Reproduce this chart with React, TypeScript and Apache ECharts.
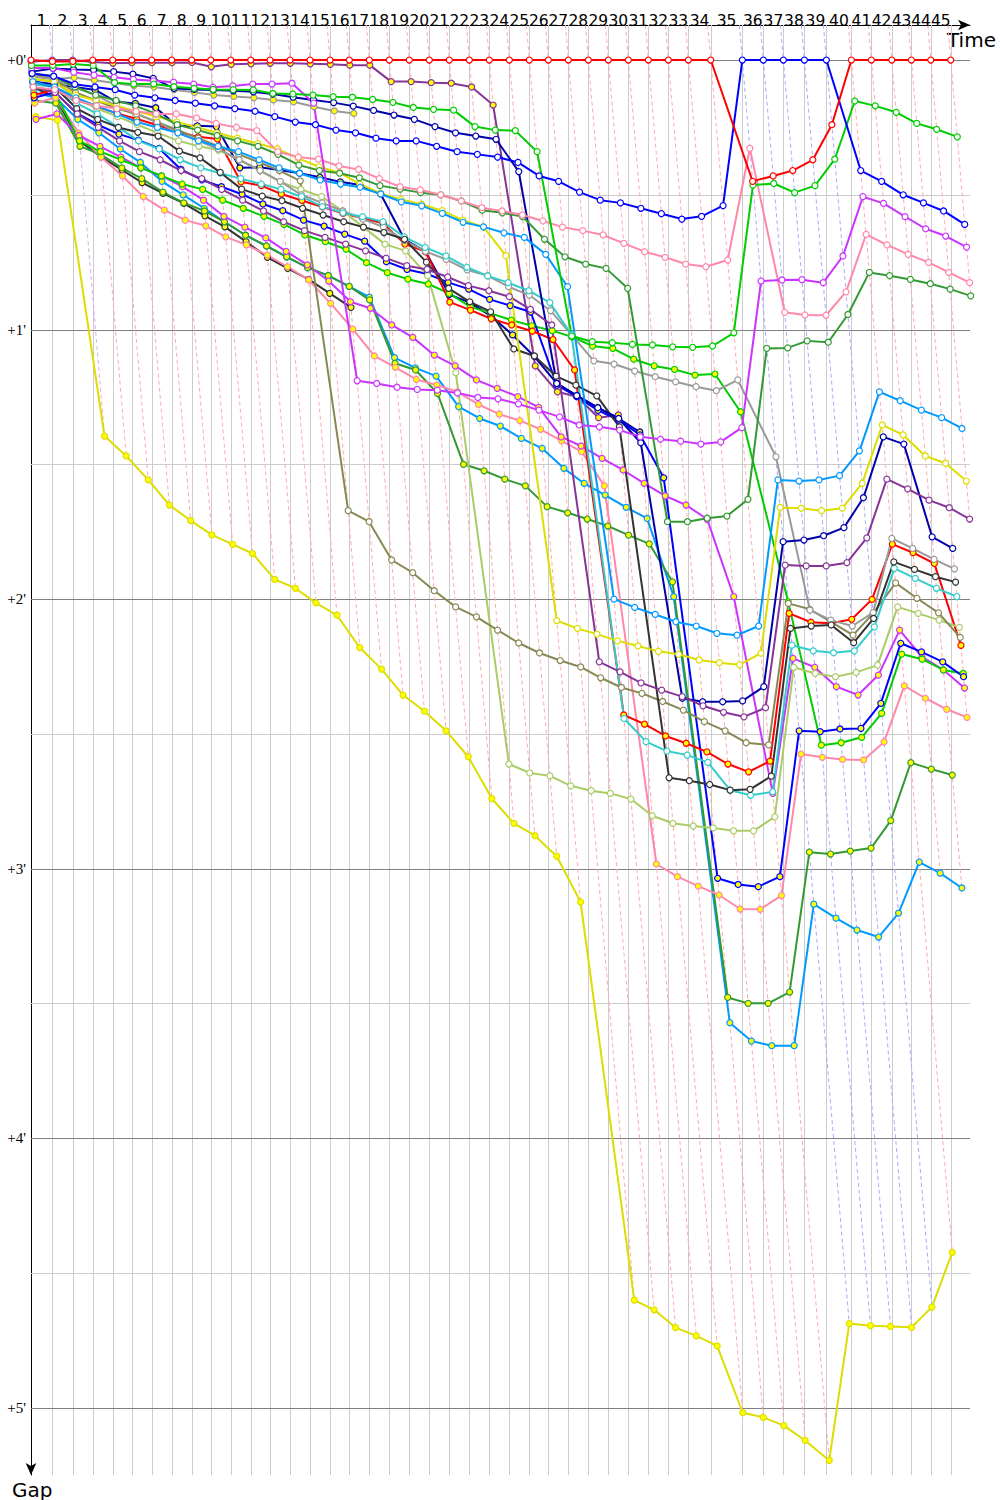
import React, { useEffect, useRef } from "react";
import * as echarts from "echarts";

// Leader's crossing time of each lap (minutes), laps 0..45
const leaderTimes = [0, 0.934, 1.829, 2.706, 3.583, 4.417, 5.294, 6.171, 7.048, 7.882, 8.759, 9.636, 10.482, 11.36, 12.237, 13.114, 13.961, 14.838, 15.715, 16.592, 17.469, 18.346, 19.224, 20.101, 20.978, 21.855, 22.689, 23.566, 24.443, 25.32, 26.197, 27.075, 27.952, 28.829, 29.811, 31.197, 32.118, 32.996, 33.917, 34.882, 35.978, 36.855, 37.75, 38.61, 39.461, 40.338];

const lapLabels = ["1","2","3","4","5","6","7","8","9","10","11","12","13","14","15","16","17","18","19","20","21","22","23","24","25","26","27","28","29","30","31","32","33","34","35","36","37","38","39","40","41","42","43","44","45"];

const gapTicks = [0, 1, 2, 3, 4, 5];
const gapHalfTicks = [0.5, 1.5, 2.5, 3.5, 4.5];

// gaps to leader (minutes) per lap, starting at lap 0
const redW = [0,0.005,0.005,0,0,0,0,0,0,0,0,0,0,0,0,0,0,0,0,0,0,0,0,0,0,0,0,0,0,0,0,0,0,0,0,0.45,0.43,0.41,0.37,0.24,0,0,0,0,0,0];
const blueW = [0.05,0.06,0.09,0.10,0.11,0.13,0.14,0.15,0.16,0.17,0.18,0.19,0.21,0.23,0.24,0.26,0.27,0.29,0.30,0.30,0.32,0.34,0.35,0.36,0.38,0.43,0.45,0.49,0.52,0.53,0.55,0.57,0.59,0.58,0.54,0,0,0,0,0,0.41,0.45,0.50,0.53,0.56,0.61];
const greenW = [0.02,0.02,0.015,0.02,0.084,0.089,0.089,0.099,0.105,0.109,0.11,0.111,0.124,0.126,0.13,0.136,0.138,0.146,0.157,0.176,0.183,0.186,0.247,0.26,0.262,0.34,1.024,1.045,1.049,1.055,1.057,1.064,1.066,1.061,1.012,0.464,0.458,0.492,0.466,0.368,0.152,0.17,0.194,0.235,0.257,0.285];
const violetW = [0.03,0.03,0.045,0.056,0.064,0.072,0.077,0.082,0.089,0.101,0.096,0.089,0.089,0.086,0.16,1.19,1.2,1.214,1.222,1.225,1.235,1.252,1.257,1.276,1.299,1.324,1.354,1.361,1.373,1.398,1.407,1.414,1.425,1.417,1.364,0.82,0.816,0.815,0.826,0.727,0.507,0.532,0.581,0.626,0.653,0.694];
const pinkW = [0.1,0.11,0.15,0.17,0.18,0.19,0.2,0.2,0.215,0.235,0.25,0.262,0.34,0.36,0.368,0.393,0.406,0.44,0.47,0.482,0.5,0.523,0.548,0.56,0.575,0.597,0.62,0.633,0.649,0.68,0.711,0.732,0.757,0.767,0.742,0.328,0.936,0.946,0.947,0.86,0.647,0.686,0.721,0.751,0.788,0.826];
const darkGreenW = [0.05,0.06,0.1,0.13,0.15,0.17,0.2,0.24,0.26,0.28,0.3,0.32,0.35,0.39,0.41,0.42,0.437,0.466,0.479,0.492,0.5,0.523,0.557,0.567,0.581,0.665,0.73,0.757,0.773,0.847,1.713,1.713,1.7,1.692,1.63,1.07,1.068,1.042,1.047,0.944,0.788,0.8,0.814,0.83,0.85,0.875];
const lightBlueW = [0.08,0.1,0.14,0.17,0.2,0.23,0.25,0.27,0.3,0.32,0.34,0.37,0.4,0.42,0.445,0.46,0.472,0.497,0.526,0.541,0.569,0.602,0.619,0.641,0.658,0.721,0.841,2.0,2.031,2.057,2.084,2.1,2.127,2.134,2.1,1.558,1.562,1.558,1.542,1.45,1.231,1.264,1.299,1.327,1.367];
const yellowW = [0.07,0.08,0.13,0.15,0.17,0.19,0.21,0.23,0.25,0.27,0.29,0.31,0.33,0.365,0.396,0.418,0.46,0.495,0.517,0.535,0.559,0.594,0.619,0.726,2.08,2.109,2.13,2.155,2.174,2.194,2.205,2.226,2.236,2.244,2.201,1.66,1.663,1.672,1.663,1.571,1.354,1.391,1.469,1.496,1.562];
const purpleW = [0.1,0.12,0.2,0.25,0.3,0.34,0.37,0.41,0.44,0.48,0.52,0.56,0.6,0.633,0.658,0.683,0.708,0.735,0.763,0.777,0.805,0.837,0.856,0.878,0.925,0.983,2.233,2.27,2.311,2.338,2.362,2.396,2.42,2.437,2.403,1.874,1.877,1.877,1.865,1.773,1.555,1.591,1.633,1.661,1.703];
const navyW = [0.043,0.031,0.035,0.037,0.043,0.052,0.068,0.105,0.109,0.111,0.114,0.118,0.126,0.138,0.148,0.158,0.171,0.187,0.204,0.22,0.247,0.27,0.282,0.294,0.414,1.2,1.245,1.29,1.33,1.42,2.368,2.381,2.381,2.378,2.325,1.787,1.781,1.765,1.735,1.624,1.398,1.425,1.769,1.812];
const blackW = [0.08,0.1,0.18,0.22,0.25,0.268,0.282,0.338,0.363,0.417,0.479,0.505,0.522,0.55,0.575,0.6,0.62,0.64,0.665,0.75,0.847,0.897,0.934,1.072,1.098,1.173,1.206,1.246,1.361,2.663,2.674,2.688,2.709,2.706,2.657,2.109,2.1,2.096,2.162,2.072,1.862,1.89,1.917,1.937];
const cyanW = [0.09,0.1,0.16,0.2,0.25,0.3,0.33,0.37,0.4,0.42,0.44,0.46,0.48,0.507,0.544,0.567,0.581,0.6,0.656,0.695,0.727,0.769,0.801,0.826,0.856,0.9,1.02,2.443,2.529,2.564,2.579,2.606,2.709,2.728,2.715,2.171,2.192,2.199,2.192,2.103,1.886,1.923,1.96,1.991];
const grayW = [0.06,0.07,0.1,0.13,0.17,0.2,0.23,0.27,0.3,0.33,0.37,0.41,0.45,0.5,0.53,0.56,0.59,0.62,0.67,0.71,0.74,0.779,0.8,0.841,0.872,0.93,1.02,1.116,1.128,1.154,1.175,1.194,1.212,1.227,1.187,1.472,2.041,2.078,2.1,2.05,1.775,1.812,1.853,1.888];
const oliveW = [0.06,0.07,0.12,0.15,0.18,0.2,0.23,0.26,0.29,0.32,0.35,0.38,0.41,0.448,1.672,1.713,1.855,1.902,1.969,2.029,2.066,2.115,2.163,2.2,2.228,2.252,2.292,2.328,2.35,2.38,2.412,2.455,2.489,2.533,2.541,2.016,2.038,2.085,2.134,2.053,1.94,1.997,2.051,2.142];
const lightOliveW = [0.07,0.08,0.14,0.18,0.21,0.24,0.27,0.3,0.32,0.334,0.37,0.41,0.452,0.48,0.507,0.56,0.62,0.683,0.708,0.8,1.16,2.612,2.645,2.656,2.693,2.711,2.721,2.742,2.804,2.832,2.842,2.849,2.86,2.86,2.808,2.253,2.276,2.288,2.272,2.245,2.029,2.053,2.078,2.105];
const redY = [0.13,0.111,0.148,0.173,0.198,0.219,0.241,0.266,0.285,0.293,0.452,0.466,0.497,0.521,0.545,0.569,0.587,0.606,0.683,0.711,0.898,0.928,0.96,0.983,1.006,1.037,1.15,2.43,2.464,2.508,2.535,2.567,2.612,2.641,2.601,2.053,2.086,2.09,2.075,2.001,1.796,1.828,1.868,2.172];
const blueY = [0.14,0.12,0.198,0.241,0.275,0.297,0.328,0.406,0.445,0.47,0.498,0.534,0.559,0.594,0.616,0.646,0.672,0.748,0.777,0.794,0.825,0.85,0.888,0.911,0.935,1.206,1.249,1.3,1.336,1.391,1.55,3.036,3.059,3.067,3.03,2.489,2.492,2.482,2.48,2.387,2.164,2.196,2.233,2.288];
const greenY = [0.1,0.12,0.3,0.34,0.37,0.4,0.43,0.46,0.48,0.52,0.55,0.58,0.61,0.649,0.674,0.702,0.752,0.789,0.813,0.831,0.866,0.915,0.94,0.965,0.986,1.004,1.027,1.061,1.07,1.11,1.135,1.148,1.169,1.165,1.305,2.01,2.542,2.533,2.513,2.424,2.204,2.223,2.263,2.276];
const violetY = [0.22,0.2,0.28,0.32,0.36,0.4,0.43,0.47,0.52,0.58,0.62,0.66,0.71,0.76,0.82,0.897,0.921,0.983,1.029,1.095,1.135,1.187,1.218,1.249,1.289,1.398,1.432,1.478,1.521,1.571,1.617,1.651,1.704,1.991,2.721,2.22,2.253,2.325,2.356,2.282,2.115,2.214,2.263,2.33];
const pinkY = [0.16,0.14,0.27,0.36,0.43,0.507,0.557,0.594,0.615,0.656,0.686,0.724,0.767,0.816,0.903,0.998,1.098,1.14,1.185,1.206,1.231,1.278,1.314,1.338,1.37,1.413,1.453,1.58,2.983,3.03,3.065,3.098,3.15,3.151,3.1,2.575,2.587,2.595,2.597,2.53,2.322,2.368,2.409,2.439];
const darkGreenY = [0.15,0.16,0.32,0.35,0.4,0.44,0.49,0.53,0.56,0.6,0.65,0.69,0.73,0.77,0.8,0.84,0.89,1.125,1.15,1.237,1.5,1.524,1.555,1.58,1.657,1.68,1.703,1.729,1.763,1.795,1.936,3.478,3.5,3.5,3.458,2.939,2.946,2.935,2.924,2.822,2.607,2.631,2.653];
const lightBlueY = [0.12,0.14,0.22,0.27,0.33,0.38,0.45,0.5,0.55,0.6,0.65,0.69,0.73,0.77,0.8,0.84,0.88,1.104,1.142,1.173,1.286,1.33,1.358,1.404,1.441,1.515,1.571,1.614,1.66,1.701,1.991,3.572,3.64,3.657,3.657,3.132,3.184,3.228,3.254,3.165,2.976,3.017,3.072];
const yellowY = [0.21,0.223,1.395,1.469,1.558,1.651,1.709,1.762,1.797,1.831,1.927,1.96,2.014,2.06,2.18,2.26,2.356,2.416,2.489,2.585,2.74,2.832,2.878,2.954,3.124,4.601,4.637,4.703,4.734,4.771,5.019,5.036,5.067,5.122,5.196,4.688,4.696,4.699,4.702,4.627,4.424];
const purpleY = [0.006,0,0,0.007,0.012,0.01,0.01,0.01,0.009,0.025,0.016,0.014,0.012,0.012,0.014,0.016,0.019,0.019,0.08,0.08,0.084,0.086,0.1,0.167,1.135,1.231,1.249,1.327,1.317];
const navyY = [0.08,0.09,0.1,0.111,0.155,0.161,0.177,0.245,0.244,0.247,0.4,0.398,0.408,0.42,0.435,0.452,0.464,0.497,0.665,0.711,0.87,0.9,0.95,1.02,1.1,1.2,1.245,1.29,1.33,1.38];
const blackY = [0.1,0.14,0.3,0.359,0.408,0.455,0.495,0.532,0.578,0.619,0.674,0.732,0.773,0.814,0.866,0.918];
const grayY = [0.05,0.07,0.065,0.075,0.085,0.095,0.1,0.11,0.12,0.13,0.135,0.14,0.148,0.155,0.173,0.189,0.198];

const C = {
  red: "#ff0000", blue: "#0000ff", green: "#00cc00", violet: "#cc33ff", pink: "#ff88aa",
  darkGreen: "#339933", lightBlue: "#0099ff", yellow: "#dddd00", purple: "#883399", navy: "#0000aa",
  black: "#333333", cyan: "#33cccc", gray: "#999999", olive: "#888855", lightOlive: "#aacc66",
};
const WHITE = "#ffffff";
const YEL = "#ffff00";

const drivers = [
  { name: "purple-2", color: C.purple, fill: YEL, dash: "#ddaaee", gaps: purpleY },
  { name: "gray-2", color: C.gray, fill: YEL, dash: "#ffaaaa", gaps: grayY },
  { name: "black-2", color: C.black, fill: YEL, dash: "#ffaaaa", gaps: blackY },
  { name: "navy-2", color: C.navy, fill: YEL, dash: "#ffaaaa", gaps: navyY },
  { name: "yellow-2", color: C.yellow, fill: YEL, dash: "#ffaaaa", gaps: yellowY },
  { name: "lightblue-2", color: C.lightBlue, fill: YEL, dash: "#ffaaaa", gaps: lightBlueY },
  { name: "darkgreen-2", color: C.darkGreen, fill: YEL, dash: "#ffaaaa", gaps: darkGreenY },
  { name: "pink-2", color: C.pink, fill: YEL, dash: "#ffaaaa", gaps: pinkY },
  { name: "violet-2", color: C.violet, fill: YEL, dash: "#ffaaaa", gaps: violetY },
  { name: "green-2", color: C.green, fill: YEL, dash: "#ffaaaa", gaps: greenY },
  { name: "blue-2", color: C.blue, fill: YEL, dash: "#ffaaaa", gaps: blueY },
  { name: "red-2", color: C.red, fill: YEL, dash: "#ffaaaa", gaps: redY },
  { name: "lightolive-1", color: C.lightOlive, fill: WHITE, dash: "#ffaaaa", gaps: lightOliveW },
  { name: "olive-1", color: C.olive, fill: WHITE, dash: "#ffaaaa", gaps: oliveW },
  { name: "gray-1", color: C.gray, fill: WHITE, dash: "#ffaaaa", gaps: grayW },
  { name: "cyan-1", color: C.cyan, fill: WHITE, dash: "#ffaaaa", gaps: cyanW },
  { name: "black-1", color: C.black, fill: WHITE, dash: "#ffaaaa", gaps: blackW },
  { name: "navy-1", color: C.navy, fill: WHITE, dash: "#ffaaaa", gaps: navyW },
  { name: "purple-1", color: C.purple, fill: WHITE, dash: "#ffaaaa", gaps: purpleW },
  { name: "yellow-1", color: C.yellow, fill: WHITE, dash: "#ffaaaa", gaps: yellowW },
  { name: "lightblue-1", color: C.lightBlue, fill: WHITE, dash: "#ffaaaa", gaps: lightBlueW },
  { name: "darkgreen-1", color: C.darkGreen, fill: WHITE, dash: "#ffaaaa", gaps: darkGreenW },
  { name: "pink-1", color: C.pink, fill: WHITE, dash: "#ffaaaa", gaps: pinkW },
  { name: "violet-1", color: C.violet, fill: WHITE, dash: "#ffaaaa", gaps: violetW },
  { name: "green-1", color: C.green, fill: WHITE, dash: "#ffaaaa", gaps: greenW },
  { name: "blue-1", color: C.blue, fill: WHITE, dash: "#aaaaff", gaps: blueW },
  { name: "red-1", color: C.red, fill: WHITE, dash: "#ffaaaa", gaps: redW },
];

const X_MAX = 41.18;
const Y_MIN = -0.13;
const Y_MAX = 5.25;

function buildOption(): any {
  const lapInfo = leaderTimes.map((t, k) => {
    let minG = Infinity;
    let maxG = -Infinity;
    let lead: any = null;
    drivers.forEach((d) => {
      const g = d.gaps[k];
      if (g === undefined || g === null) return;
      if (g < minG) { minG = g; lead = d; }
      if (g > maxG) maxG = g;
    });
    return { t, maxG, dash: lead ? lead.dash : "#ffaaaa" };
  });

  const bg: any[] = [];
  for (let k = 1; k < leaderTimes.length; k++) bg.push({ kind: "v", t: leaderTimes[k] });
  gapHalfTicks.forEach((v) => bg.push({ kind: "h", v, color: "#cccccc" }));
  gapTicks.forEach((v) => bg.push({ kind: "h", v, color: "#808080" }));
  for (let k = 1; k < leaderTimes.length; k++)
    bg.push({ kind: "d", t: leaderTimes[k], maxG: lapInfo[k].maxG, color: lapInfo[k].dash });
  lapLabels.forEach((lab, i) => bg.push({ kind: "l", t: (leaderTimes[i] + leaderTimes[i + 1]) / 2, text: lab }));
  gapTicks.forEach((v) => bg.push({ kind: "y", v, text: "+" + v + "'" }));

  const bgSeries = {
    type: "custom",
    coordinateSystem: "cartesian2d",
    silent: true,
    z: 1,
    clip: false,
    data: bg.map(() => [0, 0]),
    renderItem: (params: any, api: any) => {
      const it = bg[params.dataIndex];
      if (it.kind === "v") {
        const a = api.coord([it.t, Y_MIN]);
        const b = api.coord([it.t, Y_MAX]);
        const x = Math.round(a[0]) + 0.5;
        return { type: "line", shape: { x1: x, y1: a[1], x2: x, y2: b[1] }, style: { stroke: "#cccccc", lineWidth: 1 } };
      }
      if (it.kind === "h") {
        const a = api.coord([0, it.v]);
        const b = api.coord([X_MAX, it.v]);
        const y = Math.round(a[1]) + 0.5;
        return { type: "line", shape: { x1: a[0], y1: y, x2: b[0], y2: y }, style: { stroke: it.color, lineWidth: 1 } };
      }
      if (it.kind === "d") {
        const a = api.coord([it.t + Y_MIN, Y_MIN]);
        const b = api.coord([it.t + it.maxG, it.maxG]);
        return { type: "line", shape: { x1: a[0], y1: a[1], x2: b[0], y2: b[1] }, style: { stroke: it.color, lineWidth: 1, lineDash: [4, 3] } };
      }
      if (it.kind === "l") {
        const a = api.coord([it.t, Y_MIN]);
        return { type: "text", x: a[0], y: 20.5, style: { text: it.text, fill: "#000", font: '15.5px "DejaVu Sans"', align: "center", verticalAlign: "middle" } };
      }
      const a = api.coord([0, it.v]);
      return { type: "text", x: a[0] - 5, y: a[1], style: { text: it.text, fill: "#000", font: '15px "Liberation Serif"', align: "right", verticalAlign: "middle" } };
    },
  };

  const lineSeries = drivers.map((d) => ({
    type: "line",
    name: d.name,
    data: d.gaps.map((g, k) => [leaderTimes[k] + g, g]),
    lineStyle: { color: d.color, width: 2 },
    itemStyle: { color: d.fill, borderColor: d.color, borderWidth: 1.2 },
    symbol: "circle",
    symbolSize: 6,
    showSymbol: true,
    clip: false,
    silent: true,
    z: 3,
    emphasis: { disabled: true },
  }));

  return {
    animation: false,
    backgroundColor: "#ffffff",
    grid: { left: 31, top: 25, width: 939, height: 1450 },
    xAxis: {
      type: "value", position: "top", min: 0, max: X_MAX,
      axisLine: { show: true, onZero: false, lineStyle: { color: "#000", width: 1 }, symbol: ["none", "arrow"], symbolSize: [8, 12] },
      axisTick: { show: false }, axisLabel: { show: false }, splitLine: { show: false },
    },
    yAxis: {
      type: "value", inverse: true, min: Y_MIN, max: Y_MAX,
      axisLine: { show: true, onZero: false, lineStyle: { color: "#000", width: 1 }, symbol: ["arrow", "none"], symbolSize: [8, 12] },
      axisTick: { show: false }, axisLabel: { show: false }, splitLine: { show: false },
    },
    graphic: [
      { type: "text", x: 947, y: 39.5, style: { text: "Time", fill: "#000", font: '20px "DejaVu Sans"', align: "left", verticalAlign: "middle" } },
      { type: "text", x: 12, y: 1489.5, style: { text: "Gap", fill: "#000", font: '20px "DejaVu Sans"', align: "left", verticalAlign: "middle" } },
    ],
    series: [bgSeries, ...lineSeries],
  };
}

export default function App() {
  const ref = useRef<HTMLDivElement>(null);
  useEffect(() => {
    if (!ref.current) return;
    const chart = echarts.init(ref.current, null, { renderer: "svg" });
    chart.setOption(buildOption());
    return () => chart.dispose();
  }, []);
  return (
    <div
      ref={ref}
      style={{ position: "absolute", left: 0, top: 0, width: 1000, height: 1500, background: "#fff" }}
    />
  );
}
